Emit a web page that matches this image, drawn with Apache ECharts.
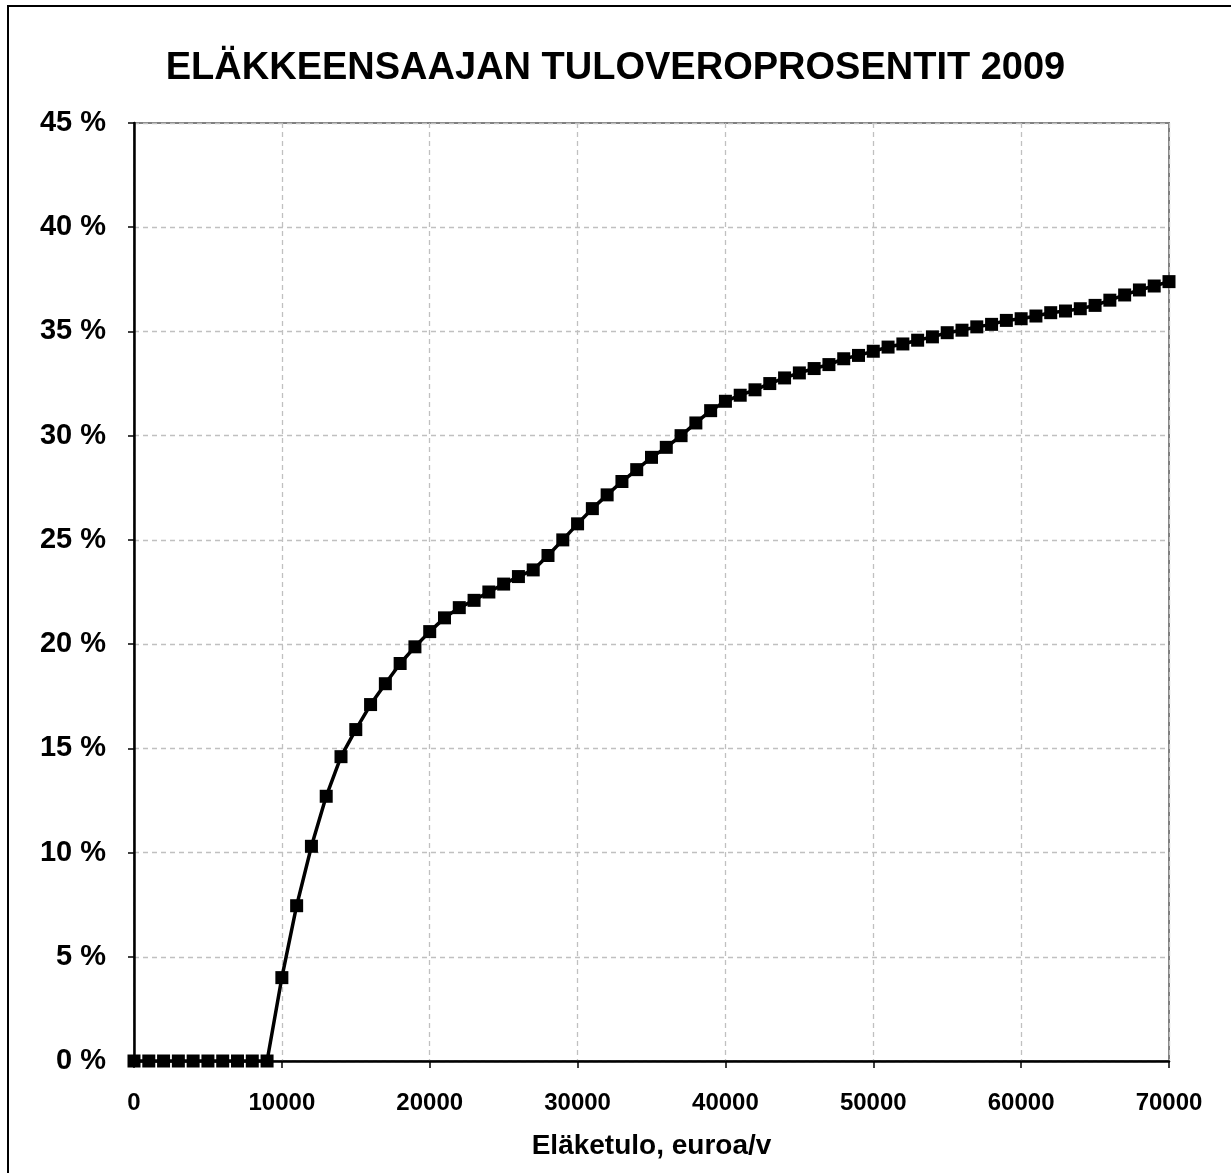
<!DOCTYPE html>
<html>
<head>
<meta charset="utf-8">
<script src="https://cdn.jsdelivr.net/npm/echarts@6/dist/echarts.min.js"></script>
<style>
html,body{margin:0;padding:0;background:#fff;}
#chart{width:1231px;height:1173px;}
</style>
</head>
<body>
<div id="chart"></div>
<script>
var titleText = 'ELÄKKEENSAAJAN TULOVEROPROSENTIT 2009';
var xAxisName = 'Eläketulo, euroa/v';
var incomes = [0,1000,2000,3000,4000,5000,6000,7000,8000,9000,10000,11000,12000,13000,14000,15000,16000,17000,18000,19000,20000,21000,22000,23000,24000,25000,26000,27000,28000,29000,30000,31000,32000,33000,34000,35000,36000,37000,38000,39000,40000,41000,42000,43000,44000,45000,46000,47000,48000,49000,50000,51000,52000,53000,54000,55000,56000,57000,58000,59000,60000,61000,62000,63000,64000,65000,66000,67000,68000,69000,70000];
var taxPercent = [0,0,0,0,0,0,0,0,0,0,4.0,7.45,10.3,12.7,14.6,15.9,17.1,18.1,19.07,19.87,20.6,21.26,21.75,22.1,22.5,22.88,23.24,23.56,24.25,25.0,25.77,26.5,27.16,27.8,28.37,28.96,29.44,30.0,30.61,31.2,31.65,31.94,32.2,32.5,32.77,33.01,33.22,33.41,33.69,33.85,34.05,34.25,34.4,34.58,34.74,34.94,35.06,35.22,35.34,35.53,35.61,35.74,35.9,35.98,36.09,36.25,36.5,36.75,36.99,37.18,37.39];

var seriesData = incomes.map(function(x,i){return [x, taxPercent[i]];});
var chart = echarts.init(document.getElementById('chart'));
var FONT = '"Liberation Sans", Arial, sans-serif';
chart.setOption({
  animation:false,
  backgroundColor:'#fff',
  title:{text:titleText,left:'center',top:45,
    textStyle:{fontFamily:FONT,fontWeight:'bold',fontSize:38,color:'#000'}},
  graphic:[{type:'rect',shape:{x:8,y:6,width:1240,height:1190},
    style:{fill:'none',stroke:'#000',lineWidth:2},silent:true}],
  grid:{left:134,right:62,top:123,bottom:112,show:true,borderColor:'#808080',borderWidth:2},
  xAxis:{type:'value',min:0,max:70000,interval:10000,
    name:xAxisName,nameLocation:'middle',nameGap:71,
    nameTextStyle:{fontFamily:FONT,fontWeight:'bold',fontSize:28,color:'#000'},
    axisLine:{lineStyle:{color:'#000',width:2.5}},
    axisTick:{show:true,length:7,lineStyle:{color:'#000',width:1.5}},
    axisLabel:{fontFamily:FONT,fontWeight:'bold',fontSize:24,color:'#000',margin:30,
      formatter:function(v){return String(v);}},
    splitLine:{show:true,lineStyle:{color:'#c0c0c0',type:[5,4],width:1.3}}},
  yAxis:{type:'value',min:0,max:45,interval:5,
    axisLine:{show:true,lineStyle:{color:'#000',width:2.5}},
    axisTick:{show:true,length:6,lineStyle:{color:'#000',width:1.5}},
    axisLabel:{fontFamily:FONT,fontWeight:'bold',fontSize:29,color:'#000',margin:28,
      formatter:function(v){return v+' %';}},
    splitLine:{show:true,lineStyle:{color:'#c0c0c0',type:[5,4],width:1.3}}},
  series:[{type:'line',data:seriesData,symbol:'rect',symbolSize:13,
    lineStyle:{color:'#000',width:3.5},itemStyle:{color:'#000'},z:5}]
});
</script>
</body>
</html>
